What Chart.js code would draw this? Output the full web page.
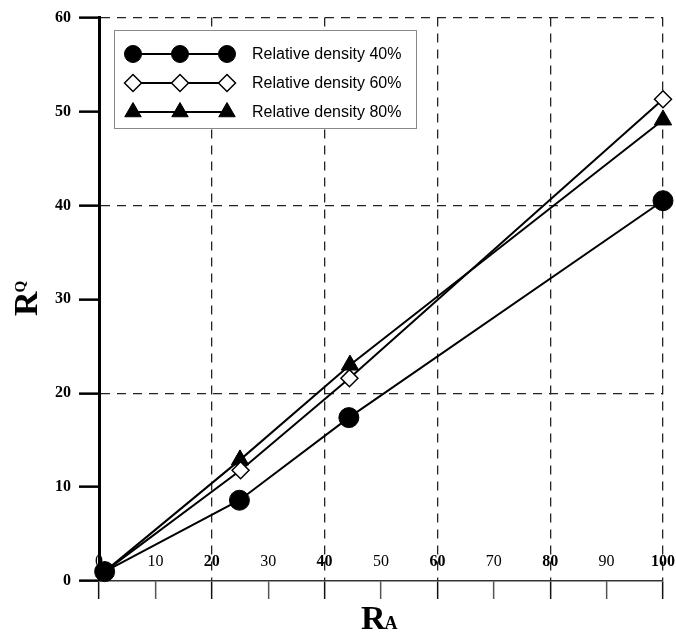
<!DOCTYPE html>
<html lang="en">
<head>
    <meta charset="UTF-8">
    <title>RQ vs RA</title>
    <script src="https://cdn.jsdelivr.net/npm/chart.js"></script>
    <style>
        body { margin: 0; background: #fff; }
        #wrap { width: 676px; height: 633px; position: relative; }
    </style>
</head>
<body>
    <div id="wrap"><canvas id="myChart"></canvas></div>
    <script>
        // values
        const ra40 = [1, 24.9, 44.3, 100];
        const rq40 = [1, 8.6, 17.4, 40.5];

        const ra60 = [1, 25.1, 44.4, 100];
        const rq60 = [1, 11.8, 21.6, 51.3];

        const ra80 = [1, 25, 44.5, 100];
        const rq80 = [1, 12.9, 23, 49.1];

        const seriesNames = ['Relative density 40%', 'Relative density 60%', 'Relative density 80%'];
        const xTicks = [0, 10, 20, 30, 40, 50, 60, 70, 80, 90, 100];
        const yTicks = [0, 10, 20, 30, 40, 50, 60];

        function pts(xs, ys) {
            return xs.map((x, i) => ({ x: x, y: ys[i] }));
        }

        function drawMarker(ctx, style, r, x, y) {
            if (Chart.helpers && Chart.helpers.drawPoint) {
                Chart.helpers.drawPoint(ctx, { pointStyle: style, radius: r, rotation: 0, borderWidth: ctx.lineWidth }, x, y);
                return;
            }
            ctx.beginPath();
            if (style === 'circle') ctx.arc(x, y, r, 0, Math.PI * 2);
            else if (style === 'rectRot') {
                ctx.moveTo(x, y - r); ctx.lineTo(x + r, y); ctx.lineTo(x, y + r); ctx.lineTo(x - r, y); ctx.closePath();
            } else {
                ctx.moveTo(x, y - r); ctx.lineTo(x + r * 0.866, y + r / 2); ctx.lineTo(x - r * 0.866, y + r / 2); ctx.closePath();
            }
            ctx.fill();
            ctx.stroke();
        }

        // legend box with three markers per row, like the original plot
        const boxLegend = {
            id: 'boxLegend',
            afterDraw(chart) {
                const ctx = chart.ctx;
                ctx.save();
                ctx.fillStyle = '#fff';
                ctx.strokeStyle = '#888';
                ctx.lineWidth = 1;
                ctx.fillRect(114.5, 30.5, 302, 98);
                ctx.strokeRect(114.5, 30.5, 302, 98);
                const rows = [54, 83, 112];
                const legendR = [8.5, 8.5, 9.5];
                chart.data.datasets.forEach((ds, i) => {
                    const y = rows[i];
                    ctx.strokeStyle = '#000';
                    ctx.lineWidth = 2;
                    ctx.beginPath();
                    ctx.moveTo(133, y);
                    ctx.lineTo(227, y);
                    ctx.stroke();
                    [133, 180, 227].forEach(x => {
                        ctx.fillStyle = ds.pointBackgroundColor;
                        ctx.strokeStyle = '#000';
                        ctx.lineWidth = ds.pointBorderWidth;
                        drawMarker(ctx, ds.pointStyle, legendR[i], x, y);
                    });
                    ctx.fillStyle = '#000';
                    ctx.font = '16px "Liberation Sans", Arial, sans-serif';
                    ctx.textAlign = 'left';
                    ctx.textBaseline = 'middle';
                    ctx.fillText(ds.label, 252, y + 1);
                });
                ctx.restore();
            }
        };

        // axis titles with subscripts
        const axisTitles = {
            id: 'axisTitles',
            afterDraw(chart) {
                const ctx = chart.ctx;
                ctx.save();
                ctx.fillStyle = '#000';
                ctx.textAlign = 'left';
                ctx.textBaseline = 'alphabetic';
                ctx.font = 'bold 34px "Liberation Serif", "Times New Roman", serif';
                ctx.fillText('R', 361, 629);
                const w = ctx.measureText('R').width;
                ctx.font = 'bold 18px "Liberation Serif", "Times New Roman", serif';
                ctx.fillText('A', 361 + w - 1, 629);

                ctx.translate(37, 316);
                ctx.rotate(-Math.PI / 2);
                ctx.font = 'bold 34px "Liberation Serif", "Times New Roman", serif';
                ctx.fillText('R', 0, 0);
                const w2 = ctx.measureText('R').width;
                ctx.font = 'bold 15px "Liberation Serif", "Times New Roman", serif';
                ctx.fillText('Q', w2 - 1, -12);
                ctx.restore();
            }
        };

        const ctx = document.getElementById('myChart').getContext('2d');
        new Chart(ctx, {
            type: 'line',
            data: {
                datasets: [
                    {
                        label: seriesNames[0],
                        data: pts(ra40, rq40),
                        borderColor: '#000',
                        borderWidth: 2,
                        clip: false,
                        pointStyle: 'circle',
                        pointRadius: 10,
                        pointBackgroundColor: '#000',
                        pointBorderColor: '#000',
                        pointBorderWidth: 1
                    },
                    {
                        label: seriesNames[1],
                        data: pts(ra60, rq60),
                        borderColor: '#000',
                        borderWidth: 2,
                        clip: false,
                        pointStyle: 'rectRot',
                        pointRadius: 8.5,
                        pointBackgroundColor: '#fff',
                        pointBorderColor: '#000',
                        pointBorderWidth: 1.5
                    },
                    {
                        label: seriesNames[2],
                        data: pts(ra80, rq80),
                        borderColor: '#000',
                        borderWidth: 2,
                        clip: false,
                        pointStyle: 'triangle',
                        pointRadius: 10,
                        pointBackgroundColor: '#000',
                        pointBorderColor: '#000',
                        pointBorderWidth: 1
                    }
                ]
            },
            options: {
                responsive: true,
                maintainAspectRatio: false,
                animation: false,
                layout: { padding: { top: 16, right: 13, left: 0, bottom: 0 } },
                plugins: {
                    legend: { display: false },
                    tooltip: { enabled: false }
                },
                scales: {
                    x: {
                        type: 'linear',
                        min: 0,
                        max: 100,
                        afterBuildTicks: (scale) => { scale.ticks = xTicks.map(v => ({ value: v })); },
                        afterFit: (scale) => {
                            scale.height = 52;
                            scale.paddingLeft = 0;
                            scale.paddingRight = 0;
                        },
                        grid: {
                            color: (c) => (c.tick && c.tick.value > 0 && c.tick.value % 20 === 0) ? '#222' : 'rgba(0,0,0,0)',
                            lineWidth: 1.3,
                            tickColor: (c) => (c.tick && c.tick.value % 20 === 0) ? '#111' : '#555',
                            tickLength: 18,
                            tickWidth: 1.5
                        },
                        border: { color: '#333', width: 1.5, dash: [9, 7] },
                        ticks: {
                            // labels sit above the axis line, inside the plot
                            mirror: true,
                            padding: 10,
                            color: '#000',
                            maxRotation: 0,
                            autoSkip: false,
                            font: (c) => ({
                                family: '"Liberation Serif", "Times New Roman", serif',
                                size: 16,
                                weight: (c.tick && c.tick.value > 0 && c.tick.value % 20 === 0) ? 'bold' : 'normal'
                            })
                        }
                    },
                    y: {
                        type: 'linear',
                        min: 0,
                        max: 60,
                        afterBuildTicks: (scale) => { scale.ticks = yTicks.map(v => ({ value: v })); },
                        afterFit: (scale) => { scale.width = 99; },
                        grid: {
                            color: (c) => (c.tick && c.tick.value > 0 && c.tick.value % 20 === 0) ? '#222' : 'rgba(0,0,0,0)',
                            lineWidth: 1.3,
                            tickColor: '#000',
                            tickLength: 20,
                            tickWidth: 2.5
                        },
                        border: { color: '#000', width: 3, dash: [9, 7] },
                        ticks: {
                            padding: 8,
                            color: '#000',
                            font: {
                                family: '"Liberation Serif", "Times New Roman", serif',
                                size: 16,
                                weight: 'bold'
                            }
                        }
                    }
                }
            },
            plugins: [boxLegend, axisTitles]
        });
    </script>
</body>
</html>
